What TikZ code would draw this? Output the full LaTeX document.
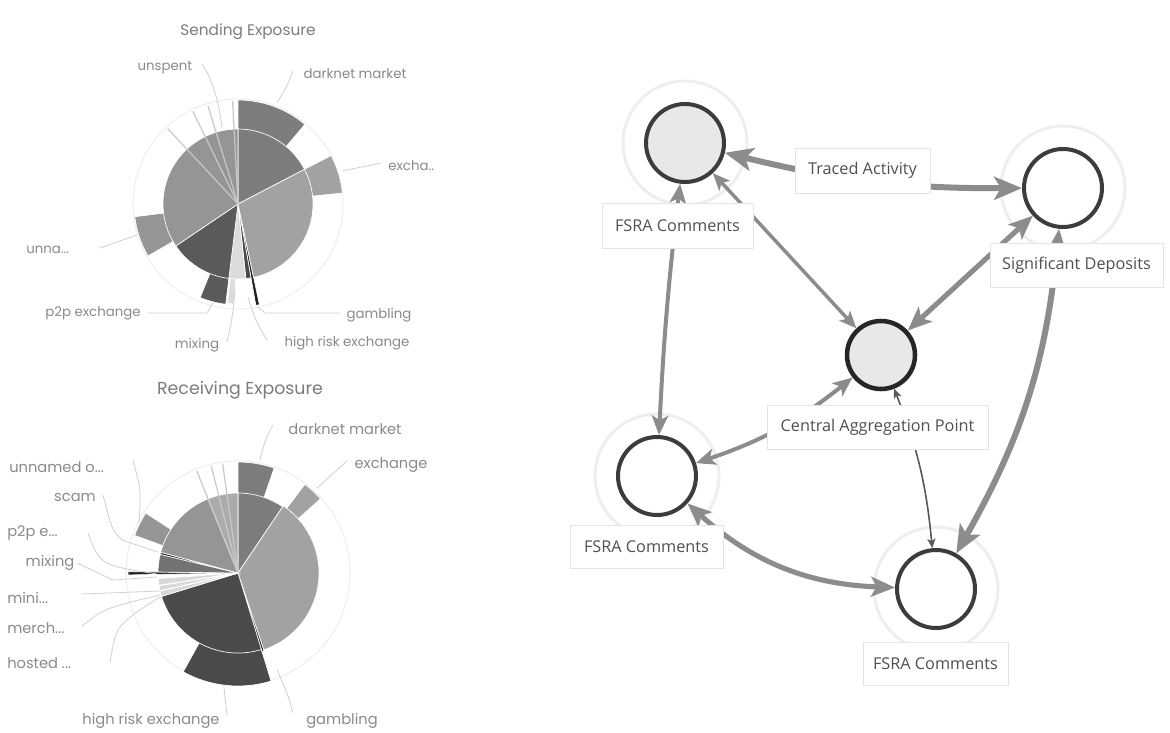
\documentclass[tikz,border=0pt]{standalone}
\usepackage{fontspec}
\setmainfont{Open Sans}
\newfontfamily\piefont{Poppins}
\usetikzlibrary{arrows.meta}
\definecolor{ndark}{HTML}{3C3C3C}
\definecolor{ncent}{HTML}{262626}
\definecolor{eg}{HTML}{8C8C8C}
\definecolor{halogray}{HTML}{EEEEEE}
\definecolor{lblborder}{HTML}{E4E4E4}
\definecolor{lbltext}{HTML}{505050}
\definecolor{pietext}{HTML}{8A8A8A}
\definecolor{leadc}{HTML}{D0D0D0}
\definecolor{faintc}{HTML}{EFEFEF}
\definecolor{cdark}{HTML}{7D7D7D}
\definecolor{cexch}{HTML}{A2A2A2}
\definecolor{cunn}{HTML}{959595}
\definecolor{cp2p}{HTML}{5A5A5A}
\definecolor{chigh}{HTML}{4A4A4A}
\definecolor{cmix}{HTML}{DCDCDC}
\definecolor{cblack}{HTML}{1E1E1E}
\definecolor{csliv}{HTML}{C8C8C8}
\newcommand\sector[4]{\fill[#1,draw=white,line width=0.5pt] (0,0) -- (#2:#4) arc[start angle=#2, end angle=#3, radius=#4] -- cycle;}
\newcommand\spoke[3]{\draw[#1,line width=0.9pt] (0,0) -- (#2:#3);}
\tikzset{
  gnode/.style={circle, draw=ndark, line width=3pt, minimum size=58.5pt, inner sep=0pt, fill=white},
  halo/.style={draw=halogray, line width=2.2pt},
  lbl/.style={draw=lblborder, line width=0.6pt, fill=white, font=\fontsize{12.2}{14}\selectfont, text=lbltext, inner sep=0pt},
  lk/.style={draw=eg, line width=#1, {Stealth[length=2pt 4.2, width=2pt 3.4, inset=0.5pt 1]}-{Stealth[length=2pt 4.2, width=2pt 3.4, inset=0.5pt 1]}},
  pietitle/.style={font=\piefont\fontsize{11.5}{13}\selectfont, text=pietext!90!black, inner sep=0pt},
  pielbl/.style={font=\piefont\fontsize{10}{12}\selectfont, text=pietext, inner sep=0pt},
  rlbl/.style={font=\piefont\fontsize{11}{13}\selectfont, text=pietext, inner sep=0pt},
  leader/.style={draw=leadc, line width=0.6pt},
  faint/.style={draw=faintc, line width=0.8pt}
}
\begin{document}
\begin{tikzpicture}[x=0.75pt,y=-0.75pt]
\useasboundingbox (0,0) rectangle (1170,732);
\fill[white] (0,0) rectangle (1170,732);

% ================= Sending Exposure =================
\node[pietitle] (stitle) at (248,32) {Sending Exposure};
\begin{scope}[shift={(238,204)}, y=0.75pt]
  \draw[faint] (0,0) circle[radius=105];
  % outer bars
  \sector{cdark}{50}{90}{104}
  \sector{cexch}{6}{27.5}{105}
  \sector{cunn}{187}{210}{104}
  \sector{cp2p}{248}{263}{101}
  \sector{cmix}{264}{268}{100}
  \sector{cblack}{-80}{-78}{103}
  % inner pie
  \sector{cdark}{27.5}{90}{75}
  \sector{cexch}{-78}{27.5}{75}
  \sector{chigh}{-84}{-80}{75}
  \sector{cmix}{-97}{-84}{75}
  \sector{cp2p}{-146}{-97}{75}
  \sector{cunn}{90}{214}{75}
  \spoke{csliv}{93}{103}
  \spoke{csliv}{107}{103}
  \spoke{csliv}{116}{103}
  \spoke{csliv}{133}{103}
\end{scope}
\node[pielbl] (s1) at (165,68) {unspent};
\node[pielbl] (s2) at (355,74) {darknet market};
\node[pielbl, anchor=west] (s3) at (388,166) {excha..};
\node[pielbl, anchor=west] (s4) at (26,250) {unna...};
\node[pielbl] (s5) at (93,313) {p2p exchange};
\node[pielbl] (s6) at (197,345) {mixing};
\node[pielbl] (s7) at (379,315) {gambling};
\node[pielbl] (s8) at (347,343) {high risk exchange};
\draw[leader] (202,64) .. controls (214,82) and (219,104) .. (222,128);
\draw[leader] (293,71) .. controls (287,86) .. (277,103);
\draw[leader] (381,163) -- (342,171);
\draw[leader] (100,248) -- (137,235);
\draw[leader] (147,313) -- (207,313) -- (213,303);
\draw[leader] (227,342) .. controls (232,320) .. (235,290);
\draw[leader] (267,340) .. controls (256,322) .. (248,297);
\draw[leader] (340,313) -- (265,313) -- (258,307);

% ================= Receiving Exposure =================
\node[pietitle, font=\piefont\fontsize{13}{15}\selectfont] (rtitle) at (240,390) {Receiving Exposure};
\begin{scope}[shift={(238,573)}, y=0.75pt]
  \draw[faint] (0,0) circle[radius=112];
  % outer bars
  \sector{cdark}{71}{90}{111}
  \sector{cexch}{42}{53}{111}
  \sector{chigh}{241}{287}{113}
  \sector{cunn}{147}{160}{110}
  \sector{cblack}{179.3}{181}{110}
  % inner pie
  \sector{cdark}{56}{90}{80}
  \sector{cexch}{-71.5}{56}{81}
  \sector{cblack}{-73}{-71.5}{82}
  \sector{chigh}{197}{287}{80}
  \sector{csliv!70!white}{184}{197}{80}
  \sector{cp2p!85!white}{166.5}{179.3}{80}
  \sector{cblack}{165}{166.5}{80}
  \sector{cunn}{112}{165}{80}
  \sector{cexch!90!white}{90}{112}{80}
  \spoke{csliv}{98}{110}
  \spoke{csliv}{104}{110}
  \spoke{csliv}{112}{110}
  \spoke{white}{189}{80}
  \spoke{white}{193}{80}
\end{scope}
\node[rlbl] (r1) at (345,429) {darknet market};
\node[rlbl] (r2) at (391,465) {exchange};
\node[rlbl, anchor=west] (r3) at (9,467) {unnamed o...};
\node[rlbl] (r4) at (75,497) {scam};
\node[rlbl, anchor=west] (r5) at (7,533) {p2p e...};
\node[rlbl] (r6) at (50,563) {mixing};
\node[rlbl, anchor=west] (r7) at (7,598) {mini...};
\node[rlbl, anchor=west] (r8) at (7,628) {merch...};
\node[rlbl, anchor=west] (r9) at (7,663) {hosted ...};
\node[rlbl] (r10) at (151,721) {high risk exchange};
\node[rlbl] (r11) at (342,721) {gambling};
\draw[leader] (273,425) .. controls (265,440) .. (260,460);
\draw[leader] (347,461) -- (317,488);
\draw[leader] (133,460) .. controls (141,490) .. (139,523);
\draw[leader] (103,495) .. controls (112,530) .. (122,540) -- (158,552);
\draw[leader] (88,533) .. controls (100,565) .. (157,574);
\draw[leader] (77,563) -- (113,580) -- (157,577);
\draw[leader] (82,594) -- (160,591);
\draw[leader] (82,626) .. controls (105,608) .. (160,595);
\draw[leader] (110,663) .. controls (116,625) .. (160,597);
\draw[leader] (227,715) -- (224,688);
\draw[leader] (293,713) .. controls (288,695) .. (277,670);

% ================= Graph =================
\draw[halo] (685,143) circle[radius=62];
\draw[halo] (1063,188) circle[radius=62];
\draw[halo] (657,476) circle[radius=62];
\draw[halo] (936,589) circle[radius=62];

\node[gnode, fill=black!9] (tl) at (685,143) {};
\node[gnode] (tr) at (1063,188) {};
\node[gnode, draw=ncent, line width=3.4pt, minimum size=51pt, fill=black!9] (ce) at (881,355) {};
\node[gnode] (bl) at (657,476) {};
\node[gnode] (br) at (936,589) {};

\draw[lk=4.5pt] (tl) to[bend right=7] (tr);
\draw[lk=3pt] (tl) to[bend right=2] (bl);
\draw[lk=2.6pt] (tl) -- (ce);
\draw[lk=3.8pt] (tr) -- (ce);
\draw[lk=4.5pt] (tr) to[bend left=12] (br);
\draw[lk=3.8pt] (bl) to[bend right=20] (br);
\draw[lk=3pt] (ce) to[bend left=10] (bl);
\draw[lk=1.2pt, draw=black!65] (ce) to[bend left=8] (br);

\node[lbl, minimum width=113.25pt, minimum height=33.75pt] (tlL) at (677.5,225.5) {FSRA Comments};
\node[lbl, minimum width=101.25pt, minimum height=33.75pt] (taL) at (862.5,170.5) {Traced Activity};
\node[lbl, minimum width=129.75pt, minimum height=33pt] (trL) at (1076.5,265) {Significant Deposits};
\node[lbl, minimum width=165.75pt, minimum height=33pt] (ceL) at (877.5,427) {Central Aggregation Point};
\node[lbl, minimum width=114.75pt, minimum height=32.25pt] (blL) at (646.5,546.5) {FSRA Comments};
\node[lbl, minimum width=108.75pt, minimum height=32.25pt] (brL) at (935.5,663.5) {FSRA Comments};
\end{tikzpicture}
\end{document}
